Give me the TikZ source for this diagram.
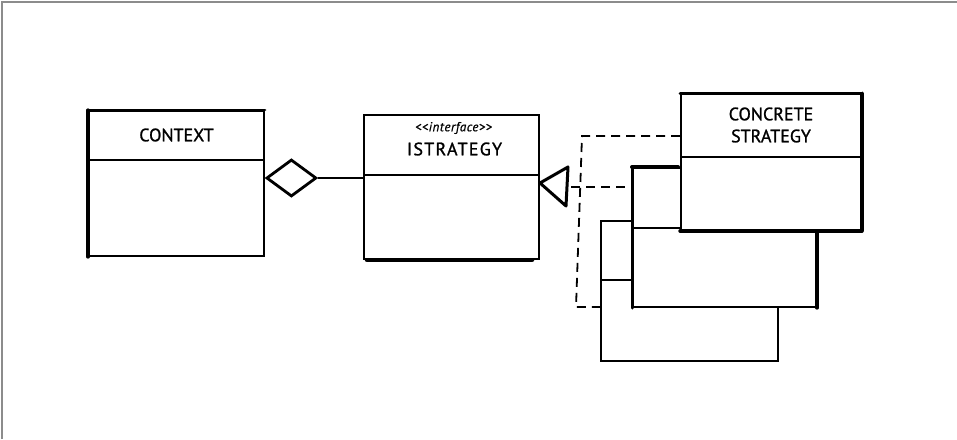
\documentclass[tikz,border=0pt]{standalone}
\usepackage{fontspec}
\setmainfont{PT Sans}
\newfontfamily\sketchfont[FakeBold=1.2]{PT Sans}
\newfontfamily\sketchwide[FakeBold=1.2,LetterSpace=7]{PT Sans}
\newfontfamily\sketchital[FakeBold=0.6,LetterSpace=4]{PT Sans Italic}
\usetikzlibrary{shapes.geometric}
\begin{document}
\begin{tikzpicture}[x=1pt,y=-1pt,
  box/.style={draw=black, fill=white, line width=2pt, rectangle, inner sep=0pt, anchor=north west},
  divider/.style={draw=black, line width=2pt},
  heavy/.style={draw=black, line width=3.2pt, line cap=round},
  title/.style={font=\sketchfont\fontsize{18}{22}\selectfont, align=center, inner sep=0pt},
  widetitle/.style={font=\sketchwide\fontsize{18}{22}\selectfont, align=center, inner sep=0pt},
  stereo/.style={font=\sketchital\fontsize{13}{14}\selectfont, inner sep=0pt},
  dashline/.style={draw=black, line width=1.8pt, dash pattern=on 9pt off 6pt},
  frame/.style={draw=black!45, line width=1.5pt}]
\useasboundingbox (0,0) rectangle (957,439);
\draw[frame] (2,439) -- (2,2) -- (957,2);

% Context
\node[box, minimum width=175pt, minimum height=145pt] (ctx) at (88,110) {};
\draw[divider] (ctx.west |- 0,160) -- (ctx.east |- 0,160);
\draw[heavy] (ctx.north west) -- (ctx.south west);
\draw[heavy, line width=2.8pt] (ctx.north west) -- (ctx.north east);
\node[title] (ctxt) at (ctx.north |- 0,135) {CONTEXT};

% IStrategy
\node[box, minimum width=175pt, minimum height=144pt] (istr) at (363,114) {};
\draw[divider, line width=2.6pt] (istr.west |- 0,175) -- (istr.east |- 0,175);
\draw[heavy, line width=4.5pt] ([xshift=4pt]istr.south west) -- ([xshift=-8pt]istr.south east);
\node[stereo] (st) at ([xshift=2pt]istr.north |- 0,128) {{<}{<}interface{>}{>}};
\node[widetitle] (istrt) at ([xshift=3pt]istr.north |- 0,149) {ISTRATEGY};

% Aggregation diamond
\node[diamond, draw=black, fill=white, line width=2.8pt, minimum width=50pt, minimum height=37pt,
      inner sep=0pt, anchor=west] (dia) at (ctx.east |- 0,178) {};
\draw[line width=2pt] (dia.east) -- (dia.east -| istr.west);

% Concrete strategies (back to front)
\node[box, minimum width=177pt, minimum height=140pt] (cs3) at (600,220) {};
\draw[divider] (cs3.west |- 0,280) -- (cs3.east |- 0,280);
\node[box, minimum width=183pt, minimum height=139pt] (cs2) at (632,167) {};
\draw[divider] (cs2.west |- 0,228) -- (cs2.east |- 0,228);
\draw[heavy, line width=3pt] (cs2.north west) -- (cs2.south west);
\draw[heavy, line width=3.2pt] (cs2.north east) -- (cs2.south east);
\draw[heavy, line width=4pt] (cs2.north west) -- ([xshift=46pt]cs2.north west);
\node[box, minimum width=180pt, minimum height=136pt] (cs1) at (680,93) {};
\draw[divider] (cs1.west |- 0,157) -- (cs1.east |- 0,157);
\draw[heavy, line width=3pt] (cs1.north west) -- (cs1.north east);
\draw[heavy, line width=3.4pt] (cs1.south west) -- (cs1.south east);
\draw[heavy, line width=3pt] (cs1.north east) -- (cs1.south east);
\node[title] (cst) at (cs1.north |- 0,125) {CONCRETE\\STRATEGY};

% Realization triangle
\coordinate (tapex) at (istr.east |- 0,183);
\coordinate (tb) at (571,187);
\draw[line width=3pt, fill=white, line join=round] (tapex) -- (568,167) -- (566,206) -- cycle;

% Dashed realization lines
\coordinate (j1) at (582,136);
\coordinate (j2) at (576,307);
\draw[dashline] (tb) -- (tb -| cs2.west);
\draw[dashline] (cs1.west |- j1) -- (j1) -- (j2) -- (j2 -| cs3.west);
\end{tikzpicture}
\end{document}
